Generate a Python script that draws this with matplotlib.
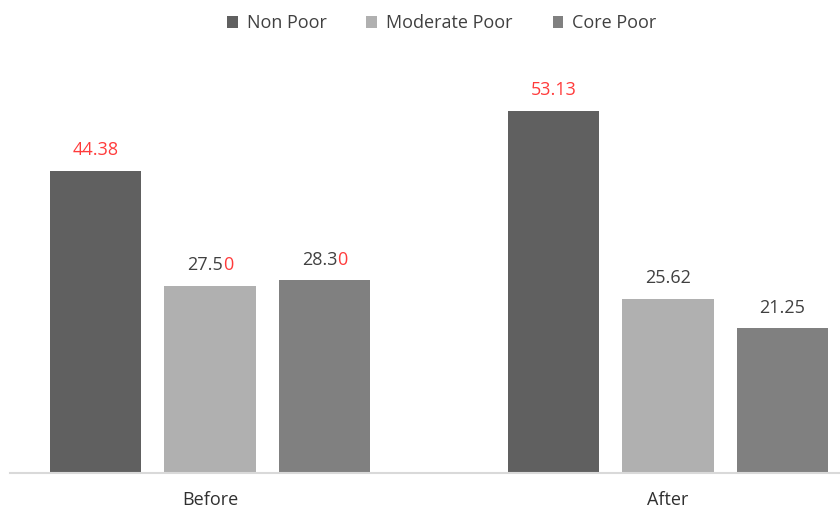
import numpy as np
import matplotlib.pyplot as plt

# Données
groups = ["Before", "After"]
series_names = ["Non Poor", "Moderate Poor", "Core Poor"]
non_poor = [44.38, 53.13]
moderate_poor = [27.50, 25.62]
core_poor = [28.30, 21.25]

# Libellés affichés au-dessus des barres : (texte, nombre de chiffres finaux en rouge)
labels_non_poor = [("44.38", 5), ("53.13", 5)]
labels_moderate = [("27.50", 1), ("25.62", 0)]
labels_core = [("28.30", 1), ("21.25", 0)]

colors = ["#606060", "#b0b0b0", "#808080"]
red = "#ff3b3b"
gray_txt = "#404040"
font = "Open Sans"
fs = 13

fig = plt.figure(figsize=(8.4, 5.11), dpi=100)
ax = fig.add_axes([0.012, 0.0744, 0.988, 0.8473])

x = np.arange(len(groups))
width = 0.2
offsets = [-0.25, 0, 0.25]
all_values = [non_poor, moderate_poor, core_poor]
all_labels = [labels_non_poor, labels_moderate, labels_core]

for off, vals, labs, col, name in zip(offsets, all_values, all_labels, colors, series_names):
    bars = ax.bar(x + off, vals, width, color=col, label=name)
    for b, (txt, nred) in zip(bars, labs):
        cx = b.get_x() + b.get_width() / 2
        h = b.get_height()
        # texte complet invisible pour centrer
        full = ax.annotate(txt, (cx, h), xytext=(0, 8.5), textcoords="offset points",
                           ha="center", va="bottom", fontsize=fs, family=font, alpha=0)
        black = txt[:len(txt) - nred]
        redp = txt[len(txt) - nred:]
        if black:
            ax.annotate(black, xy=(0, 0), xycoords=full, ha="left", va="bottom",
                        fontsize=fs, family=font, color=gray_txt)
        if redp:
            ax.annotate(redp, xy=(1, 0), xycoords=full, ha="right", va="bottom",
                        fontsize=fs, family=font, color=red)

ax.set_xlim(-0.437, 1.376)
ax.set_ylim(0, 63.6)
ax.set_xticks(x)
ax.set_xticklabels(groups, fontsize=fs, family=font, color="#303030")
ax.tick_params(axis="x", length=0, pad=13)
ax.set_yticks([])
for s in ["top", "right", "left"]:
    ax.spines[s].set_visible(False)
ax.spines["bottom"].set_color("#d9d9d9")
ax.spines["bottom"].set_linewidth(1.5)

leg = fig.legend(loc="upper center", bbox_to_anchor=(0.526, 1.004), ncol=3, frameon=False,
                 prop={"family": font, "size": fs}, handlelength=0.6, handleheight=0.6,
                 handletextpad=0.5, columnspacing=2.2)
for t in leg.get_texts():
    t.set_color("#404040")

fig.savefig("out.png", dpi=100)
